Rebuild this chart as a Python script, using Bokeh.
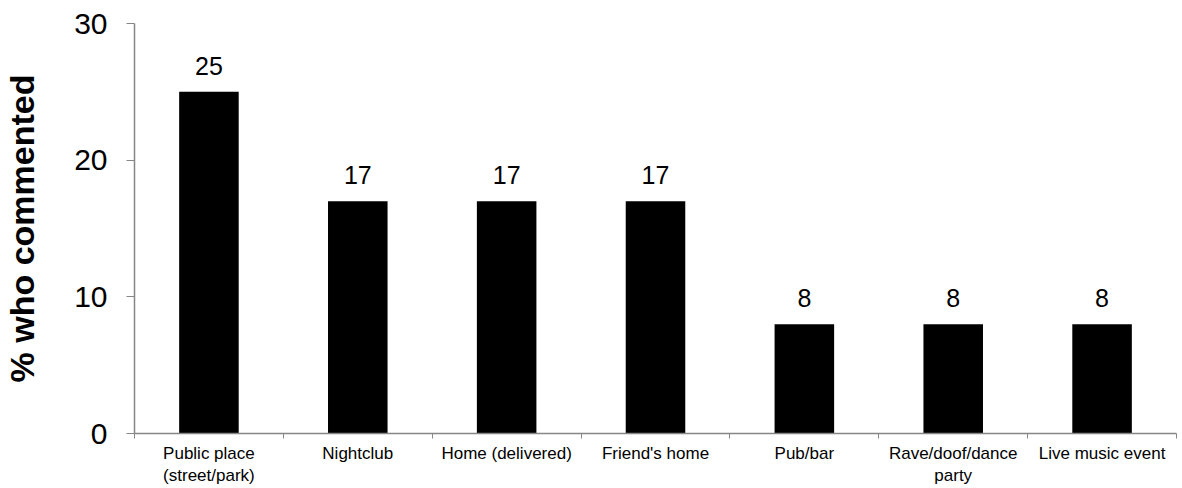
from bokeh.plotting import figure
from bokeh.models import ColumnDataSource, FixedTicker, Range1d
from bokeh.embed import file_html
from bokeh.resources import INLINE
from bokeh.core.properties import value

categories = ["Public place\n(street/park)", "Nightclub", "Home (delivered)", "Friend's home",
              "Pub/bar", "Rave/doof/dance\nparty", "Live music event"]
percents = [25, 17, 17, 17, 8, 8, 8]
y_ticks = [0, 10, 20, 30]

n = len(categories)
centers = [i + 0.5 for i in range(n)]
bounds = list(range(n + 1))

FONT = "Liberation Sans"
AXIS_COLOR = "#868686"

p = figure(width=1182, height=488, output_backend="svg", toolbar_location=None,
           x_range=Range1d(0, n), y_range=Range1d(0, 30),
           min_border_left=133, min_border_right=6, min_border_top=23, min_border_bottom=53)
p.outline_line_color = None
p.xgrid.grid_line_color = None
p.ygrid.grid_line_color = None
p.background_fill_color = "white"
p.border_fill_color = "white"

src = ColumnDataSource(dict(x=centers, top=percents, label=[str(v) for v in percents]))
p.vbar(x="x", top="top", bottom=0, width=0.4, source=src, fill_color="black", line_color=None)
p.text(x="x", y="top", text="label", source=src, text_align="center", text_baseline="bottom",
       y_offset=-17, text_font=value(FONT), text_font_size="25px", text_color="black")

# x axis
xa = p.xaxis[0]
xa.ticker = FixedTicker(ticks=centers, minor_ticks=bounds)
xa.major_label_overrides = {c: lab for c, lab in zip(centers, categories)}
xa.major_tick_out = 0
xa.major_tick_in = 0
xa.minor_tick_out = 5
xa.minor_tick_in = 0
xa.minor_tick_line_color = AXIS_COLOR
xa.axis_line_color = AXIS_COLOR
xa.axis_line_width = 1.5
xa.major_label_text_font = FONT
xa.major_label_text_font_size = "17px"
xa.major_label_text_color = "black"
xa.major_label_standoff = 5
xa.major_label_orientation = "horizontal"

# y axis
ya = p.yaxis[0]
ya.ticker = FixedTicker(ticks=y_ticks)
ya.minor_tick_line_color = None
ya.major_tick_out = 8
ya.major_tick_in = 0
ya.major_tick_line_color = AXIS_COLOR
ya.axis_line_color = AXIS_COLOR
ya.axis_line_width = 1.5
ya.major_label_text_font = FONT
ya.major_label_text_font_size = "30px"
ya.major_label_text_color = "black"
ya.major_label_standoff = 19
ya.axis_label = "% who commented"
ya.axis_label_text_font = FONT
ya.axis_label_text_font_style = "bold"
ya.axis_label_text_font_size = "34px"
ya.axis_label_text_color = "black"
ya.axis_label_standoff = 30

open("out.html", "w").write(file_html(p, INLINE))
